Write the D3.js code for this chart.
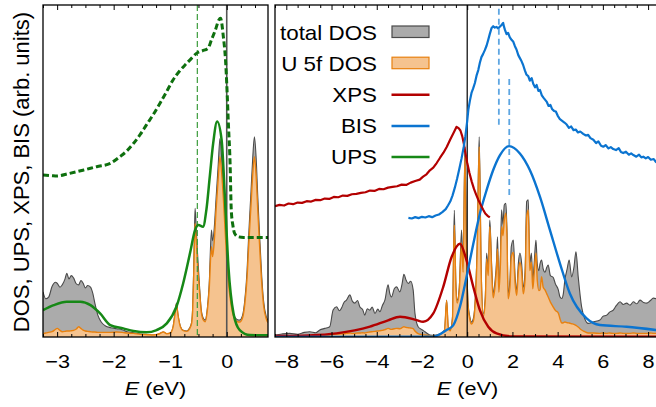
<!DOCTYPE html>
<html><head><meta charset="utf-8">
<script src="https://cdn.jsdelivr.net/npm/d3@7"></script>
<style>body{margin:0;background:#fff} svg{display:block} text{font-family:"Liberation Sans",Arial,Helvetica,sans-serif;fill:#000}</style>
</head><body><svg id="c" width="656" height="407"></svg>
<script>
// ---------- DATA (E in eV, intensities in arb. units 0..100) ----------
const leftTicks = [-3, -2, -1, 0];
const rightTicks = [-8, -6, -4, -2, 0, 2, 4, 6, 8];
const legendLabels = ["total DOS", "U 5f DOS", "XPS", "BIS", "UPS"];

// left panel DOS: [E, total, U5f]
const dosLeft = [
[-3.25,13.6,1.1],[-3.2,11.5,1.2],[-3.15,12.0,1.4],[-3.09,15.2,1.6],[-3.03,16.5,2.3],[-3.0,16.2,2.6],
[-2.95,15.0,2.0],[-2.91,15.7,1.6],[-2.86,17.5,1.7],[-2.83,19.2,1.8],[-2.79,17.5,1.8],[-2.75,18.5,1.9],
[-2.71,17.8,2.0],[-2.66,16.0,2.4],[-2.62,15.7,3.1],[-2.58,17.0,2.6],[-2.54,16.2,2.1],[-2.5,14.8,1.8],
[-2.46,15.5,1.7],[-2.41,15.0,1.6],[-2.37,13.2,1.5],[-2.33,10.0,1.5],[-2.28,6.6,1.4],[-2.22,4.5,1.4],
[-2.15,3.4,1.4],[-2.05,2.8,1.4],[-1.95,2.5,1.5],[-1.85,2.2,1.4],[-1.76,1.6,1.2],[-1.65,1.3,1.1],
[-1.53,0.9,0.8],[-1.4,0.7,0.7],[-1.3,0.6,0.6],[-1.2,0.9,0.9],[-1.12,1.5,1.5],[-1.06,1.0,1.0],
[-1.0,1.2,1.2],[-0.95,3.0,2.9],[-0.92,6.5,6.3],[-0.89,10.2,9.8],[-0.86,6.5,6.3],[-0.82,3.2,3.1],
[-0.77,2.0,1.9],[-0.71,1.8,1.7],[-0.66,2.6,2.4],[-0.62,4.5,4.2],[-0.6,10.0,9.0],[-0.58,24.0,21.0],
[-0.56,38.8,34.2],[-0.54,33.0,29.5],[-0.52,26.2,23.0],[-0.48,15.0,13.5],[-0.45,8.1,7.5],[-0.41,5.5,5.0],
[-0.38,5.1,4.6],[-0.35,7.5,7.0],[-0.31,16.0,14.5],[-0.27,32.2,27.2],[-0.25,29.0,24.2],[-0.22,33.0,29.0],
[-0.19,41.3,38.0],[-0.15,52.0,48.0],[-0.12,59.8,54.3],[-0.09,54.0,49.5],[-0.06,46.3,42.0],[-0.03,36.0,32.5],
[0.0,26.2,23.5],[0.03,18.5,16.5],[0.06,13.2,11.8],[0.1,8.5,7.6],[0.14,6.1,5.4],[0.19,5.2,4.6],
[0.23,5.1,4.5],[0.28,6.5,5.8],[0.32,11.1,10.0],[0.36,20.0,18.0],[0.39,31.2,28.0],[0.43,44.0,40.0],
[0.46,54.0,49.0],[0.49,60.3,54.3],[0.52,54.0,48.5],[0.55,42.0,38.0],[0.58,31.2,28.0],[0.62,18.0,16.0],
[0.65,11.1,9.8],[0.7,6.1,5.4],[0.73,5.0,4.3]
];

// left panel UPS experiment (dashed) and calculation (solid)
const upsExp = [
[-3.25,48.8],[-3.1,48.6],[-3.0,48.5],[-2.8,49.2],[-2.53,50.3],[-2.3,51.3],[-2.06,52.3],[-1.89,54.3],
[-1.77,56.0],[-1.65,58.3],[-1.53,61.0],[-1.42,63.9],[-1.3,67.0],[-1.18,70.4],[-1.06,74.0],[-0.95,77.4],
[-0.83,80.2],[-0.71,82.4],[-0.62,84.0],[-0.53,85.5],[-0.43,86.2],[-0.33,87.0],[-0.27,89.5],[-0.2,92.5],
[-0.14,95.5],[-0.11,96.0],[-0.06,90.5],[-0.02,83.0],[0.0,76.4],[0.03,64.0],[0.06,52.0],[0.08,38.3],
[0.11,33.5],[0.14,31.2],[0.2,30.2],[0.3,30.0],[0.73,30.0]
];
const upsCalc = [
[-3.25,8.1],[-3.06,9.6],[-2.83,10.6],[-2.59,10.6],[-2.41,9.6],[-2.24,7.1],[-2.06,3.6],[-1.83,2.6],
[-1.65,1.8],[-1.42,1.4],[-1.24,2.1],[-1.06,4.1],[-0.89,9.1],[-0.77,16.2],[-0.65,25.2],[-0.56,32.2],
[-0.5,33.7],[-0.42,33.2],[-0.36,38.3],[-0.3,48.3],[-0.24,58.3],[-0.17,64.9],[-0.09,59.3],[-0.03,41.3],
[0.03,21.2],[0.12,7.1],[0.23,2.1],[0.41,0.6],[0.73,0.5]
];
const upsMarkE = [-0.52];

// right panel DOS: [E, total, U5f]
const dosRight = [
[-8.5,0.6,0.2],[-8.2,0.9,0.2],[-7.85,1.1,0.3],[-7.5,0.8,0.3],[-7.2,1.4,0.3],[-6.96,1.6,0.4],[-6.7,1.3,0.4],
[-6.52,2.1,0.5],[-6.3,2.6,0.5],[-6.08,3.1,0.6],[-5.93,8.1,0.8],[-5.78,9.1,0.9],[-5.65,7.9,0.9],[-5.56,8.7,1.0],
[-5.45,10.4,1.0],[-5.34,11.1,1.1],[-5.19,12.7,1.2],[-5.08,10.8,1.1],[-4.97,10.2,1.1],[-4.85,11.0,1.2],
[-4.75,9.1,1.2],[-4.62,8.2,1.3],[-4.53,6.6,1.2],[-4.42,8.5,1.4],[-4.31,8.1,1.5],[-4.2,9.0,1.6],[-4.08,7.1,1.7],
[-3.95,8.4,1.8],[-3.86,7.6,1.9],[-3.75,9.5,2.0],[-3.64,11.1,2.2],[-3.5,15.7,2.6],[-3.42,13.0,2.4],
[-3.35,12.1,2.3],[-3.22,14.6,2.5],[-3.12,15.1,2.6],[-2.98,13.6,2.5],[-2.88,16.0,2.8],[-2.8,18.9,3.1],
[-2.7,17.1,2.9],[-2.61,16.1,2.8],[-2.5,16.8,2.7],[-2.39,14.2,2.5],[-2.31,7.1,1.8],[-2.17,3.1,1.0],
[-2.0,2.2,0.7],[-1.87,1.6,0.6],[-1.65,0.6,0.4],[-1.45,0.5,0.4],[-1.25,0.8,0.6],[-1.1,1.4,1.2],[-1.0,2.2,2.0],
[-0.91,11.1,11.0],[-0.84,3.0,2.8],[-0.75,2.1,1.9],[-0.65,6.0,5.5],[-0.57,38.2,33.7],[-0.5,16.0,14.5],
[-0.44,11.1,10.2],[-0.35,15.0,14.0],[-0.25,32.2,28.3],[-0.18,21.2,19.5],[-0.1,57.3,54.3],[-0.04,30.0,28.0],
[0.04,10.0,9.0],[0.12,6.0,5.2],[0.19,4.5,3.9],[0.27,5.5,4.7],[0.36,12.0,11.0],[0.45,30.0,28.0],
[0.53,60.3,57.3],[0.62,20.0,18.5],[0.71,7.1,6.2],[0.8,12.0,11.0],[0.86,25.3,23.5],[0.93,20.0,18.5],
[1.0,35.2,33.2],[1.08,22.0,20.0],[1.15,13.2,11.8],[1.22,16.0,14.5],[1.3,23.2,21.0],[1.34,30.2,26.5],
[1.4,15.2,13.5],[1.47,25.0,22.0],[1.52,38.3,33.2],[1.58,34.0,30.5],[1.64,39.8,35.2],[1.71,40.3,37.3],
[1.76,32.0,29.5],[1.81,13.2,11.5],[1.89,17.2,15.0],[1.95,27.2,24.0],[2.04,29.2,25.5],[2.12,18.0,16.0],
[2.19,14.2,12.5],[2.26,22.0,19.5],[2.33,25.3,22.5],[2.41,22.0,19.5],[2.48,15.0,13.0],[2.56,20.0,17.5],
[2.63,40.8,36.2],[2.7,41.3,38.3],[2.77,22.2,20.0],[2.84,25.3,22.5],[2.9,17.0,14.5],[2.96,22.0,19.0],
[3.04,29.2,25.3],[3.1,22.0,17.0],[3.17,20.0,14.0],[3.22,22.0,14.2],[3.29,23.2,18.2],[3.36,20.5,15.0],
[3.44,19.5,14.2],[3.52,21.0,13.0],[3.58,21.7,12.1],[3.68,18.5,10.5],[3.8,18.0,9.1],[3.9,16.0,8.0],
[4.03,14.2,7.2],[4.1,12.1,5.6],[4.18,11.6,4.2],[4.25,13.0,4.3],[4.32,17.2,4.5],[4.42,20.5,4.3],
[4.51,23.2,4.2],[4.62,18.1,4.0],[4.72,21.0,3.8],[4.81,25.7,3.5],[4.91,18.1,3.0],[5.06,9.1,2.1],
[5.2,5.5,1.6],[5.35,4.1,1.2],[5.6,4.6,1.2],[5.87,5.1,1.1],[6.0,6.2,1.2],[6.17,6.6,1.1],[6.3,7.5,1.2],
[6.46,8.1,1.1],[6.6,9.5,1.1],[6.76,10.6,1.2],[6.9,9.8,1.1],[7.05,10.2,1.1],[7.2,9.6,1.1],[7.35,10.6,1.2],
[7.5,10.0,1.1],[7.64,11.1,1.1],[7.8,10.4,1.1],[7.94,10.2,1.1],[8.1,11.0,1.2],[8.23,11.7,1.1],[8.5,11.2,1.1]
];

// right panel XPS experiment / calculation
const xpsExp = [
[-8.5,39.4],[-8.3,39.8],[-8.1,39.6],[-7.9,40.2],[-7.7,40.0],[-7.5,40.5],[-7.3,40.4],[-7.1,40.9],[-6.9,40.8],
[-6.7,41.3],[-6.5,41.2],[-6.3,41.7],[-6.1,41.6],[-5.9,42.2],[-5.7,42.1],[-5.5,42.6],[-5.3,42.5],[-5.1,43.0],
[-4.9,43.1],[-4.7,43.4],[-4.5,43.6],[-4.3,44.1],[-4.1,44.0],[-3.9,44.6],[-3.7,44.5],[-3.5,45.0],[-3.3,45.2],
[-3.1,45.4],[-2.9,45.9],[-2.7,45.8],[-2.5,46.5],[-2.3,47.0],[-2.1,47.4],[-1.95,48.3],[-1.8,49.0],[-1.65,50.2],
[-1.5,51.0],[-1.35,52.4],[-1.2,54.0],[-1.05,55.5],[-0.9,57.3],[-0.75,59.5],[-0.6,61.5],[-0.47,63.3],
[-0.38,62.9],[-0.3,62.2],[-0.22,60.5],[-0.15,58.3],[-0.08,55.5],[0.0,52.5],[0.1,49.4],[0.2,46.8],[0.3,44.6],
[0.4,42.8],[0.5,41.2],[0.6,39.8],[0.7,38.4],[0.8,37.2],[0.9,36.5],[1.0,36.0]
];
const xpsCalc = [
[-8.5,0.3],[-7,0.5],[-5.78,1.1],[-4.3,3.1],[-3.5,5.0],[-2.97,6.1],[-2.24,5.1],[-1.95,4.6],[-1.5,7.1],
[-1.06,15.1],[-0.69,24.1],[-0.32,28.1],[-0.03,23.1],[0.27,15.1],[0.56,8.1],[0.93,3.1],[1.3,1.1],[2,0.2],[8.5,0.1]
];

// right panel BIS experiment / calculation
const bisExp = [
[-2.6,35.9],[-2.45,35.7],[-2.3,36.1],[-2.15,35.8],[-2.0,36.2],[-1.85,36.0],[-1.7,36.4],[-1.55,36.1],[-1.4,36.6],
[-1.25,36.9],[-1.1,37.6],[-0.95,38.5],[-0.85,39.6],[-0.75,40.8],[-0.65,42.6],[-0.55,44.9],[-0.45,47.6],
[-0.35,50.6],[-0.25,53.8],[-0.15,57.4],[-0.08,60.5],[0.0,65.0],[0.05,68.4],[0.12,71.2],[0.19,73.5],[0.26,74.8],
[0.34,76.5],[0.42,78.9],[0.49,80.4],[0.56,82.6],[0.63,84.3],[0.7,85.2],[0.78,86.4],[0.86,87.8],[0.93,89.5],
[1.0,91.3],[1.08,93.1],[1.15,93.6],[1.22,93.2],[1.3,93.4],[1.37,92.9],[1.45,93.5],[1.52,94.0],[1.59,94.6],
[1.63,93.4],[1.67,92.5],[1.74,91.2],[1.81,91.6],[1.88,90.3],[1.96,89.5],[2.04,88.9],[2.11,87.6],[2.18,86.6],
[2.26,84.9],[2.33,84.0],[2.4,83.1],[2.47,82.0],[2.55,80.3],[2.62,79.0],[2.7,78.6],[2.77,77.2],[2.85,78.0],
[2.92,76.3],[3.0,75.2],[3.07,75.9],[3.15,74.1],[3.22,74.4],[3.3,72.8],[3.37,72.1],[3.44,71.5],[3.52,70.8],
[3.6,69.6],[3.68,69.9],[3.75,68.7],[3.84,68.1],[3.92,67.9],[4.0,66.7],[4.1,65.6],[4.2,65.1],[4.3,64.6],
[4.4,64.0],[4.5,63.0],[4.6,63.4],[4.7,62.3],[4.8,62.5],[4.9,61.6],[5.0,61.9],[5.13,61.2],[5.25,60.7],
[5.35,60.9],[5.45,59.9],[5.58,59.4],[5.7,58.4],[5.8,58.9],[5.92,57.6],[6.02,57.3],[6.12,57.8],[6.25,56.8],
[6.35,57.2],[6.46,56.6],[6.58,56.3],[6.7,56.9],[6.8,55.7],[6.9,55.4],[7.02,55.8],[7.15,54.9],[7.25,55.3],
[7.35,54.8],[7.48,54.3],[7.6,54.9],[7.7,54.1],[7.79,54.3],[7.9,53.8],[8.0,54.2],[8.12,53.4],[8.25,53.6],
[8.35,52.7],[8.5,52.9]
];
const bisCalc = [
[-8.5,0],[-1.5,0.1],[-0.91,2.1],[-0.62,3.5],[-0.32,9.1],[-0.03,18.1],[0.27,28.1],[0.56,37.1],[0.86,44.3],
[1.15,50.3],[1.45,54.8],[1.85,57.5],[2.33,55.3],[2.77,50.3],[3.22,42.2],[3.66,32.2],[4.1,22.2],[4.54,13.1],
[5.28,5.6],[5.87,3.6],[7.05,3.1],[8.5,2.0]
];
// dashed markers of the BIS maxima: [E, from, to]
const bisMarks = [[1.40, 63.9, 99.1], [1.86, 42.8, 78.3]];

// ---------- STYLE ----------
const C = {
  grayFill:"#ababab", grayLine:"#4a4a4a", orFill:"#f5c38f", orLine:"#e8810f",
  xps:"#b30000", bis:"#0b74d0", ups:"#168816", upsExp:"#0e700e", upsMark:"#3c9c3c", bisMark:"#5ea6e2"
};
const SX = 1.17; // horizontal stretch of the reference lettering
const svg = d3.select("#c");
const yS = d3.scaleLinear().domain([0,100]).range([337,5]);
const xL = d3.scaleLinear().domain([-3.25,0.73]).range([43,268]);
const xR = d3.scaleLinear().domain([-8.5,8.5]).range([275,659.4]);
const defs = svg.append("defs");

function panel(x, id, ticks, minorStep, labX) {
  const [x0,x1] = x.range();
  defs.append("clipPath").attr("id",id).append("rect").attr("x",x0).attr("y",5).attr("width",x1-x0).attr("height",332);
  const g = svg.append("g");
  const plot = g.append("g").attr("clip-path",`url(#${id})`);
  const d = x.domain();
  const minor = d3.range(Math.ceil(d[0]/minorStep)*minorStep, d[1]+1e-9, minorStep).filter(v=>!ticks.some(t=>Math.abs(t-v)<1e-6));
  const axG = g.append("g");
  axG.append("g").attr("transform","translate(0,337)")
    .call(d3.axisBottom(x).tickValues(ticks).tickSize(-5).tickPadding(18).tickFormat(d3.format("d")))
    .call(s=>{s.select(".domain").remove();
      s.selectAll("text").attr("font-size",18.5).attr("font-family","Liberation Sans, Arial, sans-serif")
       .attr("transform",`scale(${SX},1)`);});
  axG.append("g").attr("transform","translate(0,337)")
    .call(d3.axisBottom(x).tickValues(minor).tickSize(-3).tickFormat(""))
    .call(s=>s.select(".domain").remove());
  axG.append("g").attr("transform","translate(0,5)")
    .call(d3.axisTop(x).tickValues(ticks).tickSize(-5).tickFormat(""))
    .call(s=>s.select(".domain").remove());
  axG.append("g").attr("transform","translate(0,5)")
    .call(d3.axisTop(x).tickValues(minor).tickSize(-3).tickFormat(""))
    .call(s=>s.select(".domain").remove());
  axG.selectAll("line").attr("stroke","#000").attr("stroke-width",1);
  g.append("rect").attr("x",x0).attr("y",5).attr("width",x1-x0).attr("height",332)
    .attr("fill","none").attr("stroke","#000").attr("stroke-width",1.3);
  const lab = g.append("g").attr("transform",`translate(${labX},395)`).append("text")
    .attr("text-anchor","middle").attr("font-size",18.5).attr("transform",`scale(${SX},1)`);
  lab.append("tspan").attr("font-style","italic").text("E");
  lab.append("tspan").text(" (eV)");
  return plot;
}

function dos(plot, x, data) {
  const aT = d3.area().x(d=>x(d[0])).y0(yS(0)).y1(d=>yS(d[1])).curve(d3.curveMonotoneX);
  const aF = d3.area().x(d=>x(d[0])).y0(yS(0)).y1(d=>yS(d[2])).curve(d3.curveMonotoneX);
  const lT = d3.line().x(d=>x(d[0])).y(d=>yS(d[1])).curve(d3.curveMonotoneX);
  const lF = d3.line().x(d=>x(d[0])).y(d=>yS(d[2])).curve(d3.curveMonotoneX);
  plot.append("path").attr("d",aT(data)).attr("fill",C.grayFill);
  plot.append("path").attr("d",lT(data)).attr("fill","none").attr("stroke",C.grayLine).attr("stroke-width",1.1);
  plot.append("path").attr("d",aF(data)).attr("fill",C.orFill);
  plot.append("path").attr("d",lF(data)).attr("fill","none").attr("stroke",C.orLine).attr("stroke-width",1.4);
}
function curve(plot, x, data, color, w, smooth, dash) {
  const l = d3.line().x(d=>x(d[0])).y(d=>yS(d[1])).curve(smooth? d3.curveMonotoneX : d3.curveLinear);
  const p = plot.append("path").attr("d",l(data)).attr("fill","none").attr("stroke",color).attr("stroke-width",w).attr("stroke-linejoin","round");
  if (dash) p.attr("stroke-dasharray",dash);
}

// Left panel
const pL = panel(xL, "cl", leftTicks, 0.25, 155.5);
dos(pL, xL, dosLeft);
pL.append("line").attr("x1",xL(0)).attr("x2",xL(0)).attr("y1",5).attr("y2",337).attr("stroke","#555").attr("stroke-width",1.6);
upsMarkE.forEach(e=>pL.append("line").attr("x1",xL(e)).attr("x2",xL(e)).attr("y1",5).attr("y2",337)
  .attr("stroke",C.upsMark).attr("stroke-width",1.2).attr("stroke-dasharray","6,3"));
curve(pL, xL, upsCalc, C.ups, 2.5, true);
curve(pL, xL, upsExp, C.upsExp, 3, true, "6,3");

// Right panel
const pR = panel(xR, "cr", rightTicks, 0.5, 467.5);
dos(pR, xR, dosRight);
pR.append("line").attr("x1",xR(0)).attr("x2",xR(0)).attr("y1",5).attr("y2",337).attr("stroke","#000").attr("stroke-width",1.2);
curve(pR, xR, xpsCalc, C.xps, 2.4, true);
curve(pR, xR, bisCalc, C.bis, 2.4, true);
curve(pR, xR, xpsExp, C.xps, 2.2, false);
curve(pR, xR, bisExp, C.bis, 2.2, false);
bisMarks.forEach(m=>pR.append("line").attr("x1",xR(m[0])).attr("x2",xR(m[0])).attr("y1",yS(m[1])).attr("y2",yS(m[2]))
  .attr("stroke",C.bisMark).attr("stroke-width",1.8).attr("stroke-dasharray","6,4"));

// Legend
const leg = svg.append("g");
const legY = [39.5, 70.7, 101.7, 133, 164];
const legSw = [
  {t:"rect", f:C.grayFill, s:C.grayLine},
  {t:"rect", f:C.orFill, s:C.orLine},
  {t:"line", s:C.xps}, {t:"line", s:C.bis}, {t:"line", s:C.ups}
];
legendLabels.forEach((lab,i)=>{
  const yy = legY[i];
  leg.append("g").attr("transform",`translate(377,${yy})`).append("text")
    .attr("text-anchor","end").attr("font-size",20).attr("transform","scale(1.12,1)").text(lab);
  const sw = legSw[i];
  if (sw.t==="rect") leg.append("rect").attr("x",392).attr("y",yy-13.5).attr("width",37).attr("height",11.5)
      .attr("fill",sw.f).attr("stroke",sw.s).attr("stroke-width",1.2);
  else leg.append("line").attr("x1",391.5).attr("x2",429.5).attr("y1",yy-7).attr("y2",yy-7).attr("stroke",sw.s).attr("stroke-width",2.4);
});

// Y label
svg.append("text").attr("transform","translate(28.5,172) rotate(-90)").attr("text-anchor","middle")
  .attr("font-size",22).text("DOS, UPS, XPS, BIS (arb. units)");
</script></body></html>
